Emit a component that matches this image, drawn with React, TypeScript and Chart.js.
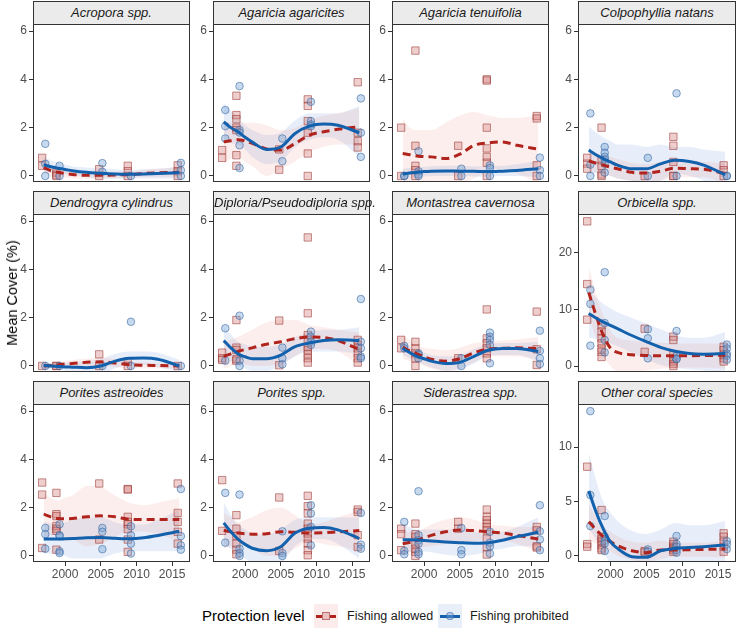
import React, { useEffect, useRef } from "react";
import { Chart, registerables } from "chart.js";

Chart.register(...registerables);

const FONT = "'Liberation Sans', Arial, Helvetica, sans-serif";

// ---------- shared data ----------
const SURVEY_YEARS = [1997, 1999, 2005, 2009, 2016];
const FIT_X = [1997, 1998, 1999, 2000, 2001, 2003, 2005, 2007, 2009, 2011, 2013, 2016];
const X_TICKS = [2000, 2005, 2010, 2015];
const SMALL_Y_TICKS = [0, 2, 4, 6];
const ORBICELLA_Y_TICKS = [0, 10, 20];
const OTHER_Y_TICKS = [0, 5, 10];
const SERIES_NAMES = ["Fishing allowed", "Fishing prohibited"];

// ---------- Acropora spp. ----------
const acroporaAllowed = [[0.75, 0.42], [0.14, 0.05, 0.0], [0.28, 0.0], [0.42, 0.2, 0.0], [0.44, 0.2, 0.0]];
const acroporaProhibited = [[1.33, 0.5, 0.0], [0.42, 0.0], [0.53, 0.17], [0.0], [0.54, 0.24, 0.0]];
const acroporaAFit = [0.35, 0.22, 0.15, 0.1, 0.06, 0.03, 0.03, 0.04, 0.06, 0.1, 0.13, 0.15];
const acroporaALo = [0.1, 0.03, 0.0, -0.06, -0.1, -0.12, -0.1, -0.1, -0.05, -0.05, -0.05, -0.05];
const acroporaAHi = [0.65, 0.45, 0.3, 0.25, 0.22, 0.18, 0.16, 0.18, 0.17, 0.25, 0.3, 0.35];
const acroporaPFit = [0.47, 0.38, 0.32, 0.27, 0.22, 0.15, 0.11, 0.08, 0.07, 0.08, 0.1, 0.14];
const acroporaPLo = [0.15, 0.12, 0.1, 0.07, 0.05, -0.05, -0.1, -0.12, -0.1, -0.1, -0.1, -0.1];
const acroporaPHi = [0.8, 0.65, 0.55, 0.47, 0.4, 0.35, 0.32, 0.28, 0.25, 0.28, 0.3, 0.38];

// ---------- Agaricia agaricites ----------
const agaricitesAllowed = [[1.07, 0.75], [3.32, 2.52, 2.35, 2.0, 1.9, 0.86, 0.42], [1.1, 0.26], [3.17, 2.9, 2.27, 1.79, 0.93, 0.0], [3.88, 1.79, 1.44, 1.18]];
const agaricitesProhibited = [[2.73, 2.06, 1.55], [3.72, 1.9, 1.8, 1.27, 0.33], [1.55, 0.61], [3.07, 2.27, 2.13, 2.06], [3.21, 1.79, 0.79]];
const agaricitesAFit = [1.41, 1.46, 1.5, 1.45, 1.35, 1.12, 1.07, 1.34, 1.69, 1.83, 1.93, 2.04];
const agaricitesALo = [0.5, 0.7, 0.8, 0.6, 0.4, 0.0, 0.3, 0.6, 1.0, 1.2, 1.3, 1.3];
const agaricitesAHi = [2.3, 2.2, 2.2, 2.2, 2.2, 2.1, 1.9, 2.0, 2.3, 2.5, 2.6, 2.8];
const agaricitesPFit = [2.24, 2.0, 1.83, 1.6, 1.4, 1.1, 1.2, 1.76, 2.06, 2.15, 2.1, 1.79];
const agaricitesPLo = [1.5, 1.35, 1.3, 1.1, 0.8, 0.5, 0.6, 1.2, 1.5, 1.6, 1.5, 0.8];
const agaricitesPHi = [3.0, 2.7, 2.4, 2.1, 1.9, 1.7, 1.8, 2.3, 2.6, 2.6, 2.6, 2.9];

// ---------- Agaricia tenuifolia ----------
const tenuifoliaAllowed = [[2.0, 0.0], [5.19, 1.25, 0.42, 0.24, 0.0], [1.25, 0.0], [4.0, 3.95, 2.0, 1.14, 0.79, 0.55, 0.0], [2.48, 2.38, 0.44, 0.0]];
const tenuifoliaProhibited = [[0.0, 0.0], [1.02, 0.19, 0.07, 0.0], [0.3, 0.0], [0.44, 0.33, 0.0], [0.76, 0.24, 0.0]];
const tenuifoliaAFit = [0.93, 0.88, 0.83, 0.8, 0.79, 0.72, 0.9, 1.27, 1.37, 1.41, 1.27, 1.11];
const tenuifoliaALo = [-0.5, -0.4, -0.3, -0.3, -0.3, -0.4, -0.3, -0.1, 0.2, 0.3, 0.1, -0.3];
const tenuifoliaAHi = [2.4, 2.0, 1.9, 1.9, 1.9, 2.2, 2.5, 2.65, 2.5, 2.4, 2.4, 2.5];
const tenuifoliaPFit = [0.08, 0.12, 0.15, 0.18, 0.2, 0.21, 0.2, 0.19, 0.18, 0.2, 0.23, 0.3];
const tenuifoliaPLo = [-0.15, -0.1, -0.05, -0.02, 0.0, 0.0, 0.0, -0.02, -0.03, 0.0, 0.0, -0.05];
const tenuifoliaPHi = [0.3, 0.33, 0.35, 0.38, 0.4, 0.42, 0.42, 0.4, 0.4, 0.42, 0.48, 0.65];

// ---------- Colpophyllia natans ----------
const colpophylliaAllowed = [[0.75, 0.51, 0.3], [2.0, 0.65, 0.42, 0.06, 0.0], [0.0], [1.62, 1.25, 0.58, 0.0, 0.0], [0.44, 0.24, 0.0]];
const colpophylliaProhibited = [[2.59, 0.47, 0.0], [1.2, 0.96, 0.79, 0.68, 0.51, 0.14], [0.75, 0.0], [3.42, 0.0], [0.0, 0.0]];
const colpophylliaAFit = [0.62, 0.53, 0.45, 0.37, 0.3, 0.15, 0.12, 0.2, 0.32, 0.3, 0.28, 0.1];
const colpophylliaALo = [0.2, 0.15, 0.1, 0.0, -0.1, -0.2, -0.25, -0.2, -0.05, -0.05, -0.05, -0.3];
const colpophylliaAHi = [1.0, 0.92, 0.85, 0.78, 0.7, 0.55, 0.5, 0.6, 0.7, 0.65, 0.6, 0.5];
const colpophylliaPFit = [1.07, 0.88, 0.72, 0.58, 0.45, 0.3, 0.3, 0.5, 0.65, 0.6, 0.45, 0.05];
const colpophylliaPLo = [0.1, 0.1, 0.1, 0.0, -0.1, -0.2, -0.3, -0.2, 0.1, 0.0, -0.2, -0.9];
const colpophylliaPHi = [2.05, 1.8, 1.6, 1.45, 1.3, 1.3, 1.2, 1.3, 1.2, 1.2, 1.1, 1.0];

// ---------- Dendrogyra cylindrus ----------
const dendrogyraAllowed = [[0.0], [0.0, 0.0], [0.48, 0.0], [0.18, 0.0], [0.0]];
const dendrogyraProhibited = [[0.0], [0.0], [0.0], [1.83, 0.0], [0.0]];
const dendrogyraAFit = [0.0, 0.02, 0.05, 0.08, 0.1, 0.15, 0.17, 0.12, 0.05, 0.03, 0.02, 0.0];
const dendrogyraALo = [-0.1, -0.08, -0.05, -0.05, -0.05, 0.0, 0.0, -0.05, -0.1, -0.1, -0.1, -0.1];
const dendrogyraAHi = [0.1, 0.12, 0.15, 0.2, 0.25, 0.3, 0.35, 0.3, 0.2, 0.15, 0.12, 0.1];
const dendrogyraPFit = [0.02, 0.0, -0.02, -0.04, -0.05, -0.07, 0.0, 0.2, 0.32, 0.33, 0.28, 0.0];
const dendrogyraPLo = [-0.15, -0.15, -0.15, -0.2, -0.25, -0.3, -0.3, -0.1, 0.05, 0.05, -0.05, -0.25];
const dendrogyraPHi = [0.15, 0.12, 0.1, 0.12, 0.15, 0.2, 0.3, 0.5, 0.6, 0.6, 0.55, 0.25];

// ---------- Diploria/Pseudodiploria spp. ----------
const diploriaAllowed = [[0.55, 0.32, 0.25], [1.9, 0.76, 0.66, 0.28, 0.22], [1.88, 0.03], [5.32, 2.18, 1.28, 1.08, 0.8, 0.66, 0.48, 0.32, 0.14], [1.08, 0.87, 0.73, 0.52, 0.32, 0.14]];
const diploriaProhibited = [[1.56, 0.22], [2.08, 0.22, 0.0], [0.76, 0.32, 0.07], [1.42, 1.21, 1.0, 0.87], [2.77, 1.0, 0.73, 0.39, 0.32]];
const diploriaAFit = [0.4, 0.5, 0.6, 0.68, 0.75, 0.9, 1.0, 1.13, 1.2, 1.18, 1.05, 0.68];
const diploriaALo = [-0.1, 0.0, 0.1, 0.05, 0.0, 0.0, 0.1, 0.4, 0.7, 0.7, 0.6, 0.0];
const diploriaAHi = [1.0, 1.1, 1.2, 1.35, 1.5, 1.8, 1.9, 1.9, 1.7, 1.6, 1.5, 1.4];
const diploriaPFit = [1.05, 0.75, 0.5, 0.38, 0.3, 0.3, 0.45, 0.8, 0.95, 1.05, 1.08, 1.05];
const diploriaPLo = [0.5, 0.2, 0.0, -0.1, -0.2, -0.2, 0.0, 0.4, 0.6, 0.6, 0.6, 0.5];
const diploriaPHi = [1.6, 1.3, 1.0, 0.9, 0.8, 0.8, 0.9, 1.2, 1.4, 1.5, 1.5, 1.6];

// ---------- Montastrea cavernosa ----------
const montastreaAllowed = [[1.08, 0.73], [1.0, 0.73, 0.52, 0.32, 0.0], [0.32], [2.34, 1.14, 0.94, 0.73, 0.52, 0.32], [2.25, 0.69, 0.04]];
const montastreaProhibited = [[0.83, 0.73], [0.52, 0.46, 0.32], [0.32, 0.0], [1.38, 1.21, 1.08, 0.87, 0.11], [1.46, 0.62, 0.32, 0.08]];
const montastreaAFit = [0.78, 0.62, 0.5, 0.38, 0.28, 0.2, 0.3, 0.55, 0.7, 0.73, 0.75, 0.72];
const montastreaALo = [0.3, 0.2, 0.15, 0.0, -0.1, -0.2, -0.1, 0.15, 0.4, 0.4, 0.4, 0.2];
const montastreaAHi = [1.3, 1.05, 0.85, 0.75, 0.7, 0.65, 0.75, 0.95, 1.0, 1.05, 1.1, 1.2];
const montastreaPFit = [0.72, 0.55, 0.4, 0.3, 0.2, 0.1, 0.15, 0.4, 0.65, 0.72, 0.72, 0.6];
const montastreaPLo = [0.45, 0.3, 0.15, 0.05, -0.05, -0.2, -0.15, 0.1, 0.4, 0.45, 0.45, 0.2];
const montastreaPHi = [1.0, 0.8, 0.65, 0.55, 0.45, 0.4, 0.45, 0.7, 0.9, 0.95, 0.95, 1.0];

// ---------- Orbicella spp. ----------
const orbicellaAllowed = [[25.6, 14.5, 8.2], [7.2, 6.1, 4.9, 4.0, 3.1, 2.5, 1.6], [6.6, 2.5], [5.2, 4.6, 2.1, 1.2, 0.8, 0.35, 0.0], [3.4, 2.8, 1.9, 1.35, 0.8]];
const orbicellaProhibited = [[13.5, 11.0, 3.6], [16.6, 7.6, 4.6, 2.4], [6.5, 4.9, 1.35], [6.2, 1.8, 1.35, 1.2], [3.8, 3.1, 2.2, 1.8, 1.1]];
const orbicellaAFit = [13.0, 9.0, 5.5, 3.2, 2.4, 2.0, 1.85, 1.8, 1.8, 1.82, 1.85, 1.9];
const orbicellaALo = [8.5, 5.0, 2.0, 0.0, -1.0, -1.3, -0.8, -0.5, -0.3, -0.3, -0.3, -0.5];
const orbicellaAHi = [17.5, 13.0, 9.0, 6.3, 5.0, 4.5, 4.2, 4.1, 4.0, 4.0, 4.0, 4.0];
const orbicellaPFit = [9.3, 8.5, 7.8, 7.2, 6.6, 5.4, 4.3, 3.3, 2.6, 2.2, 2.1, 2.2];
const orbicellaPLo = [5.0, 4.8, 4.5, 4.0, 3.5, 2.3, 1.2, 0.2, -0.3, -0.6, -0.8, -1.5];
const orbicellaPHi = [13.5, 12.2, 11.0, 10.2, 9.5, 8.5, 7.5, 6.5, 5.5, 5.0, 5.0, 6.0];

// ---------- Porites astreoides ----------
const astreoidesAllowed = [[3.04, 2.54, 0.33], [2.61, 1.73, 1.65, 1.24, 1.13, 1.04, 0.26], [3.0, 0.68], [2.77, 2.75, 1.62, 1.41, 1.31, 1.11, 0.68, 0.17], [3.0, 1.78, 1.41, 1.0, 0.51]];
const astreoidesProhibited = [[1.16, 0.9, 0.3], [1.31, 0.86, 0.82, 0.19, 0.12], [1.16, 1.0, 0.28], [1.23, 0.86, 0.51, 0.1], [2.77, 0.82, 0.44, 0.26]];
const astreoidesAFit = [1.73, 1.62, 1.55, 1.54, 1.55, 1.62, 1.66, 1.62, 1.52, 1.51, 1.51, 1.51];
const astreoidesALo = [0.8, 0.85, 0.9, 0.8, 0.7, 0.4, 0.5, 0.8, 1.0, 1.0, 0.9, 0.6];
const astreoidesAHi = [2.6, 2.4, 2.3, 2.4, 2.5, 2.9, 2.85, 2.5, 2.2, 2.1, 2.2, 2.4];
const astreoidesPFit = [0.7, 0.7, 0.7, 0.71, 0.72, 0.75, 0.76, 0.73, 0.71, 0.75, 0.85, 1.02];
const astreoidesPLo = [0.1, 0.1, 0.1, 0.0, -0.1, -0.1, -0.1, 0.1, 0.2, 0.2, 0.2, 0.2];
const astreoidesPHi = [1.4, 1.35, 1.3, 1.4, 1.5, 1.6, 1.6, 1.4, 1.3, 1.3, 1.5, 1.9];

// ---------- Porites spp. ----------
const poritesAllowed = [[3.14, 1.04], [1.69, 1.13, 0.82, 0.51, 0.26, 0.07], [2.42, 0.21], [2.49, 2.06, 1.76, 1.34, 1.13, 0.93, 0.72, 0.51, 0.24, 0.03], [1.92, 1.82, 0.86, 0.37]];
const poritesProhibited = [[2.61, 0.55], [2.54, 0.3, 0.12, 0.0], [1.02, 0.12, 0.0], [2.1, 1.76, 1.2, 0.44], [1.78, 0.47, 0.3]];
const poritesAFit = [1.05, 1.0, 0.95, 0.92, 0.9, 0.92, 1.0, 0.98, 0.95, 0.96, 1.0, 1.05];
const poritesALo = [0.3, 0.4, 0.5, 0.4, 0.3, 0.0, 0.0, 0.3, 0.6, 0.5, 0.4, 0.2];
const poritesAHi = [1.8, 1.6, 1.4, 1.5, 1.6, 1.9, 2.0, 1.7, 1.3, 1.4, 1.6, 1.9];
const poritesPFit = [1.37, 1.0, 0.7, 0.48, 0.32, 0.22, 0.38, 0.95, 1.15, 1.18, 1.08, 0.72];
const poritesPLo = [0.5, 0.3, 0.1, -0.1, -0.3, -0.4, -0.3, 0.4, 0.7, 0.7, 0.5, -0.1];
const poritesPHi = [2.2, 1.7, 1.3, 1.1, 0.9, 0.9, 1.1, 1.5, 1.6, 1.6, 1.6, 1.6];

// ---------- Siderastrea spp. ----------
const siderastreaAllowed = [[1.13, 0.9, 0.24], [1.34, 0.9, 0.79, 0.51, 0.3, 0.17, 0.0], [1.41, 1.13], [1.92, 1.62, 1.48, 1.34, 1.2, 1.06, 0.72, 0.37, 0.06], [1.2, 1.06, 0.4, 0.35]];
const siderastreaProhibited = [[1.41, 0.21, 0.07], [2.68, 0.86, 0.65, 0.51, 0.17, 0.07], [1.16, 0.24, 0.07], [1.0, 0.55, 0.4, 0.1], [2.1, 1.02, 0.68, 0.24]];
const siderastreaAFit = [0.5, 0.57, 0.65, 0.75, 0.85, 1.0, 1.07, 1.05, 1.0, 0.95, 0.85, 0.7];
const siderastreaALo = [0.0, 0.15, 0.3, 0.35, 0.4, 0.5, 0.55, 0.6, 0.7, 0.65, 0.5, 0.2];
const siderastreaAHi = [1.0, 1.0, 1.0, 1.15, 1.3, 1.5, 1.6, 1.5, 1.3, 1.25, 1.2, 1.2];
const siderastreaPFit = [0.67, 0.67, 0.66, 0.64, 0.62, 0.58, 0.55, 0.53, 0.55, 0.65, 0.8, 0.98];
const siderastreaPLo = [0.05, 0.15, 0.2, 0.18, 0.15, 0.05, 0.0, 0.05, 0.2, 0.3, 0.4, 0.4];
const siderastreaPHi = [1.3, 1.2, 1.1, 1.1, 1.1, 1.1, 1.1, 1.0, 0.9, 1.0, 1.2, 1.6];

// ---------- Other coral species ----------
const otherAllowed = [[8.19, 1.07, 0.83], [4.2, 1.75, 1.5, 1.29, 0.98, 0.67, 0.52], [0.43, 0.31], [1.29, 1.07, 0.83, 0.67, 0.52, 0.37], [2.06, 1.75, 1.29, 0.83, 0.37]];
const otherProhibited = [[13.3, 5.58, 2.73], [3.65, 1.75, 1.38, 1.13, 0.43], [0.58, 0.37], [1.81, 1.07, 0.83, 0.52, 0.28], [1.35, 1.04, 0.61]];
const otherAFit = [3.13, 2.4, 1.75, 1.3, 0.92, 0.46, 0.28, 0.52, 0.52, 0.55, 0.58, 0.61];
const otherALo = [1.5, 1.1, 0.8, 0.4, 0.0, -0.4, -0.6, -0.3, -0.1, -0.1, -0.1, -0.2];
const otherAHi = [4.7, 3.6, 2.7, 2.2, 1.8, 1.3, 1.2, 1.4, 1.2, 1.2, 1.2, 1.4];
const otherPFit = [5.95, 4.05, 2.5, 1.29, 0.67, -0.09, -0.15, 0.45, 0.67, 0.75, 0.83, 0.98];
const otherPLo = [2.5, 1.5, 0.3, -0.7, -1.5, -2.5, -2.4, -1.6, -1.5, -1.4, -1.3, -1.2];
const otherPHi = [9.5, 7.0, 5.0, 4.0, 3.2, 2.3, 2.0, 2.4, 3.0, 2.8, 2.8, 3.2];

// ---------- panel list ----------
type Panel = {
  title: string;
  allowed: number[][];
  prohibited: number[][];
  aFit: number[]; aLo: number[]; aHi: number[];
  pFit: number[]; pLo: number[]; pHi: number[];
  yMin: number; yMax: number; yTicks: number[];
};

const SMALL_MIN = -0.25;
const SMALL_MAX = 6.29;

const PANELS: Panel[] = [
  { title: "Acropora spp.", allowed: acroporaAllowed, prohibited: acroporaProhibited, aFit: acroporaAFit, aLo: acroporaALo, aHi: acroporaAHi, pFit: acroporaPFit, pLo: acroporaPLo, pHi: acroporaPHi, yMin: SMALL_MIN, yMax: SMALL_MAX, yTicks: SMALL_Y_TICKS },
  { title: "Agaricia agaricites", allowed: agaricitesAllowed, prohibited: agaricitesProhibited, aFit: agaricitesAFit, aLo: agaricitesALo, aHi: agaricitesAHi, pFit: agaricitesPFit, pLo: agaricitesPLo, pHi: agaricitesPHi, yMin: SMALL_MIN, yMax: SMALL_MAX, yTicks: SMALL_Y_TICKS },
  { title: "Agaricia tenuifolia", allowed: tenuifoliaAllowed, prohibited: tenuifoliaProhibited, aFit: tenuifoliaAFit, aLo: tenuifoliaALo, aHi: tenuifoliaAHi, pFit: tenuifoliaPFit, pLo: tenuifoliaPLo, pHi: tenuifoliaPHi, yMin: SMALL_MIN, yMax: SMALL_MAX, yTicks: SMALL_Y_TICKS },
  { title: "Colpophyllia natans", allowed: colpophylliaAllowed, prohibited: colpophylliaProhibited, aFit: colpophylliaAFit, aLo: colpophylliaALo, aHi: colpophylliaAHi, pFit: colpophylliaPFit, pLo: colpophylliaPLo, pHi: colpophylliaPHi, yMin: SMALL_MIN, yMax: SMALL_MAX, yTicks: SMALL_Y_TICKS },
  { title: "Dendrogyra cylindrus", allowed: dendrogyraAllowed, prohibited: dendrogyraProhibited, aFit: dendrogyraAFit, aLo: dendrogyraALo, aHi: dendrogyraAHi, pFit: dendrogyraPFit, pLo: dendrogyraPLo, pHi: dendrogyraPHi, yMin: SMALL_MIN, yMax: SMALL_MAX, yTicks: SMALL_Y_TICKS },
  { title: "Diploria/Pseudodiploria spp.", allowed: diploriaAllowed, prohibited: diploriaProhibited, aFit: diploriaAFit, aLo: diploriaALo, aHi: diploriaAHi, pFit: diploriaPFit, pLo: diploriaPLo, pHi: diploriaPHi, yMin: SMALL_MIN, yMax: SMALL_MAX, yTicks: SMALL_Y_TICKS },
  { title: "Montastrea cavernosa", allowed: montastreaAllowed, prohibited: montastreaProhibited, aFit: montastreaAFit, aLo: montastreaALo, aHi: montastreaAHi, pFit: montastreaPFit, pLo: montastreaPLo, pHi: montastreaPHi, yMin: SMALL_MIN, yMax: SMALL_MAX, yTicks: SMALL_Y_TICKS },
  { title: "Orbicella spp.", allowed: orbicellaAllowed, prohibited: orbicellaProhibited, aFit: orbicellaAFit, aLo: orbicellaALo, aHi: orbicellaAHi, pFit: orbicellaPFit, pLo: orbicellaPLo, pHi: orbicellaPHi, yMin: -1.06, yMax: 26.9, yTicks: ORBICELLA_Y_TICKS },
  { title: "Porites astreoides", allowed: astreoidesAllowed, prohibited: astreoidesProhibited, aFit: astreoidesAFit, aLo: astreoidesALo, aHi: astreoidesAHi, pFit: astreoidesPFit, pLo: astreoidesPLo, pHi: astreoidesPHi, yMin: SMALL_MIN, yMax: SMALL_MAX, yTicks: SMALL_Y_TICKS },
  { title: "Porites spp.", allowed: poritesAllowed, prohibited: poritesProhibited, aFit: poritesAFit, aLo: poritesALo, aHi: poritesAHi, pFit: poritesPFit, pLo: poritesPLo, pHi: poritesPHi, yMin: SMALL_MIN, yMax: SMALL_MAX, yTicks: SMALL_Y_TICKS },
  { title: "Siderastrea spp.", allowed: siderastreaAllowed, prohibited: siderastreaProhibited, aFit: siderastreaAFit, aLo: siderastreaALo, aHi: siderastreaAHi, pFit: siderastreaPFit, pLo: siderastreaPLo, pHi: siderastreaPHi, yMin: SMALL_MIN, yMax: SMALL_MAX, yTicks: SMALL_Y_TICKS },
  { title: "Other coral species", allowed: otherAllowed, prohibited: otherProhibited, aFit: otherAFit, aLo: otherALo, aHi: otherAHi, pFit: otherPFit, pLo: otherPLo, pHi: otherPHi, yMin: -0.58, yMax: 13.96, yTicks: OTHER_Y_TICKS },
];

// ---------- styling / layout ----------
const X_MIN = 1995.5;
const X_MAX = 2017.5;
const DODGE = 0.22;

const RED_LINE = "#B0241D";
const BLUE_LINE = "#1361AD";
const SQUARE_FILL = "rgba(214,130,125,0.38)";
const SQUARE_EDGE = "rgba(150,50,45,0.55)";
const CIRCLE_FILL = "rgba(120,165,215,0.42)";
const CIRCLE_EDGE = "rgba(45,95,155,0.55)";
const RED_BAND = "rgba(238,140,130,0.15)";
const BLUE_BAND = "rgba(120,160,220,0.18)";

const COL_LEFT = [33, 213, 392, 578];
const COL_WIDTH = [157, 157, 157, 158];
const ROW_TOP = [24, 214, 404];
const PLOT_H = 158;
const STRIP_H = 23;
const AXIS_W = [22, 22, 22, 28];
const X_AXIS_H = 22;

function toPoints(groups: number[][], shift: number) {
  const out: { x: number; y: number }[] = [];
  groups.forEach((vals, i) => vals.forEach((v) => out.push({ x: SURVEY_YEARS[i] + shift, y: v })));
  return out;
}

function toLine(vals: number[]) {
  return vals.map((v, i) => ({ x: FIT_X[i], y: v }));
}

const borderPlugin = {
  id: "panelBorder",
  afterDraw(chart: any) {
    const { ctx, chartArea } = chart;
    ctx.save();
    ctx.strokeStyle = "#333333";
    ctx.lineWidth = 1;
    ctx.setLineDash([]);
    ctx.strokeRect(
      Math.round(chartArea.left) + 0.5,
      Math.round(chartArea.top) + 0.5,
      Math.round(chartArea.right - chartArea.left) - 1,
      Math.round(chartArea.bottom - chartArea.top) - 1
    );
    ctx.restore();
  },
};

function buildConfig(p: Panel, row: number, col: number): any {
  const bandBase = { type: "line", borderWidth: 0, borderColor: "rgba(0,0,0,0)", pointRadius: 0, cubicInterpolationMode: "monotone", order: 2 };
  const fitBase = { type: "line", borderWidth: 3, pointRadius: 0, fill: false, cubicInterpolationMode: "monotone", borderCapStyle: "butt", order: 0 };
  const showX = row === 2;
  return {
    type: "scatter",
    data: {
      datasets: [
        { ...fitBase, label: SERIES_NAMES[1], data: toLine(p.pFit), borderColor: BLUE_LINE },
        { ...fitBase, label: SERIES_NAMES[0], data: toLine(p.aFit), borderColor: RED_LINE, borderDash: [8, 5] },
        { type: "scatter", label: SERIES_NAMES[1], data: toPoints(p.prohibited, DODGE), pointStyle: "circle", pointRadius: 3.8, backgroundColor: CIRCLE_FILL, borderColor: CIRCLE_EDGE, borderWidth: 1, order: 1 },
        { type: "scatter", label: SERIES_NAMES[0], data: toPoints(p.allowed, -DODGE), pointStyle: "rect", pointRadius: 5.2, backgroundColor: SQUARE_FILL, borderColor: SQUARE_EDGE, borderWidth: 1, order: 1 },
        { ...bandBase, label: "allowed lo", data: toLine(p.aLo), fill: false },
        { ...bandBase, label: "allowed hi", data: toLine(p.aHi), fill: "-1", backgroundColor: RED_BAND },
        { ...bandBase, label: "prohibited lo", data: toLine(p.pLo), fill: false },
        { ...bandBase, label: "prohibited hi", data: toLine(p.pHi), fill: "-1", backgroundColor: BLUE_BAND },
      ],
    },
    options: {
      responsive: false,
      animation: false,
      events: [],
      layout: { padding: 0, autoPadding: false },
      plugins: { legend: { display: false }, tooltip: { enabled: false } },
      scales: {
        x: {
          type: "linear",
          min: X_MIN,
          max: X_MAX,
          display: showX,
          afterBuildTicks: (s: any) => { s.ticks = X_TICKS.map((v) => ({ value: v })); },
          afterFit: (s: any) => { s.height = showX ? X_AXIS_H : 0; s.paddingLeft = 0; s.paddingRight = 0; },
          grid: { drawOnChartArea: false, drawTicks: true, tickLength: 4, tickColor: "#333333", tickWidth: 1 },
          border: { display: false },
          ticks: { color: "#4D4D4D", font: { family: FONT, size: 12 }, padding: 1, maxRotation: 0, autoSkip: false, callback: (v: any) => String(v) },
        },
        y: {
          type: "linear",
          min: p.yMin,
          max: p.yMax,
          afterBuildTicks: (s: any) => { s.ticks = p.yTicks.map((v) => ({ value: v })); },
          afterFit: (s: any) => { s.width = AXIS_W[col]; s.paddingTop = 0; s.paddingBottom = 0; },
          grid: { drawOnChartArea: false, drawTicks: true, tickLength: 4, tickColor: "#333333", tickWidth: 1 },
          border: { display: false },
          ticks: { color: "#4D4D4D", font: { family: FONT, size: 12 }, padding: 2, callback: (v: any) => String(v) },
        },
      },
    },
    plugins: [borderPlugin],
  };
}

export default function App() {
  const refs = useRef<(HTMLCanvasElement | null)[]>([]);

  useEffect(() => {
    const charts = PANELS.map((p, i) => {
      const row = Math.floor(i / 4);
      const col = i % 4;
      return new Chart(refs.current[i] as HTMLCanvasElement, buildConfig(p, row, col));
    });
    return () => charts.forEach((c) => c.destroy());
  }, []);

  return (
    <div style={{ position: "absolute", left: 0, top: 0, width: 737, height: 628, background: "#ffffff", fontFamily: FONT, overflow: "hidden" }}>
      {PANELS.map((p, i) => {
        const row = Math.floor(i / 4);
        const col = i % 4;
        const w = AXIS_W[col] + COL_WIDTH[col];
        const h = PLOT_H + (row === 2 ? X_AXIS_H : 0);
        return (
          <React.Fragment key={p.title}>
            <canvas
              ref={(el) => { refs.current[i] = el; }}
              width={w}
              height={h}
              style={{ position: "absolute", left: COL_LEFT[col] - AXIS_W[col], top: ROW_TOP[row], width: w, height: h }}
            />
            <div
              style={{
                position: "absolute",
                left: COL_LEFT[col],
                top: ROW_TOP[row] - STRIP_H,
                width: COL_WIDTH[col],
                height: STRIP_H + 1,
                boxSizing: "border-box",
                border: "1px solid #333333",
                background: "#EBEBEB",
                fontStyle: "italic",
                fontSize: 13,
                color: "#1A1A1A",
                lineHeight: `${STRIP_H - 1}px`,
                textAlign: "center",
                whiteSpace: "nowrap",
              }}
            >
              {p.title}
            </div>
          </React.Fragment>
        );
      })}

      <div
        style={{
          position: "absolute",
          left: 12,
          top: 293,
          transform: "translate(-50%, -50%) rotate(-90deg)",
          fontSize: 14.5,
          color: "#000",
          whiteSpace: "nowrap",
        }}
      >
        Mean Cover (%)
      </div>

      {/* legend */}
      <div style={{ position: "absolute", left: 202, top: 607, fontSize: 15, lineHeight: "18px", color: "#000", whiteSpace: "nowrap" }}>
        Protection level
      </div>
      <div style={{ position: "absolute", left: 314, top: 604, width: 24, height: 24, background: "#FBEBEA" }}>
        <div style={{ position: "absolute", left: 2, top: 10.5, width: 6, height: 3, background: RED_LINE }} />
        <div style={{ position: "absolute", left: 16, top: 10.5, width: 6, height: 3, background: RED_LINE }} />
        <div style={{ position: "absolute", left: 8, top: 8, width: 8, height: 8, boxSizing: "border-box", background: SQUARE_FILL, border: `1px solid ${SQUARE_EDGE}` }} />
      </div>
      <div style={{ position: "absolute", left: 347, top: 608, fontSize: 12.5, lineHeight: "16px", color: "#1A1A1A", whiteSpace: "nowrap" }}>
        {SERIES_NAMES[0]}
      </div>
      <div style={{ position: "absolute", left: 438, top: 604, width: 24, height: 24, background: "#E9EFF8" }}>
        <div style={{ position: "absolute", left: 2, top: 10.5, width: 20, height: 3, background: BLUE_LINE }} />
        <div style={{ position: "absolute", left: 8, top: 8, width: 8, height: 8, boxSizing: "border-box", borderRadius: "50%", background: CIRCLE_FILL, border: `1px solid ${CIRCLE_EDGE}` }} />
      </div>
      <div style={{ position: "absolute", left: 470, top: 608, fontSize: 12.5, lineHeight: "16px", color: "#1A1A1A", whiteSpace: "nowrap" }}>
        {SERIES_NAMES[1]}
      </div>
    </div>
  );
}
